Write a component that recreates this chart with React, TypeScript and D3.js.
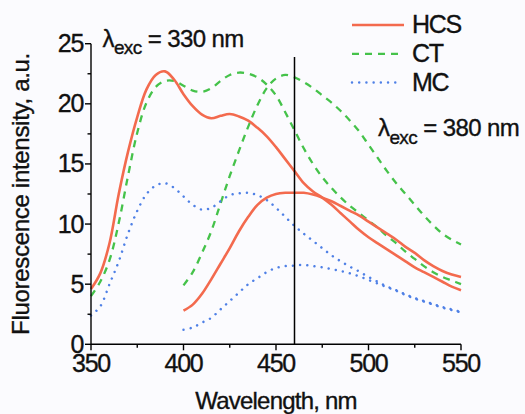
import React from 'react';
import * as d3 from 'd3';

// wavelengths, nm
const wl330 = [350, 355, 360, 365, 370, 375, 380, 385, 390, 395, 400, 405, 410, 415, 420, 425, 430, 435, 440, 445, 450,
  455, 460, 465, 470, 475, 480, 485, 490, 495, 500, 505, 510, 515, 520, 525, 530, 535, 540, 545, 550];
const wl380 = [400, 405, 410, 415, 420, 425, 430, 435, 440, 445, 450,
  455, 460, 465, 470, 475, 480, 485, 490, 495, 500, 505, 510, 515, 520, 525, 530, 535, 540, 545, 550];

// excitation 330 nm
const hcs330 = [4.6, 5.9, 8.4, 12.5, 16.0, 18.9, 21.2, 22.4, 22.7, 22.0, 20.8, 19.8, 19.1, 18.8, 19.0, 19.15, 18.95, 18.6, 18.0, 17.3, 16.4,
  15.4, 14.4, 13.4, 12.7, 12.2, 11.6, 10.9, 10.2, 9.5, 8.9, 8.4, 7.9, 7.4, 6.9, 6.4, 6.0, 5.6, 5.2, 4.8, 4.5];
const ct330 = [4.0, 5.2, 7.0, 10.1, 14.0, 17.6, 20.1, 21.4, 21.9, 21.9, 21.5, 21.1, 21.0, 21.3, 21.9, 22.4, 22.6, 22.5, 22.2, 21.6, 20.7,
  19.3, 17.8, 16.3, 15.0, 13.9, 13.0, 12.2, 11.5, 10.9, 10.3, 9.7, 9.0, 8.4, 7.7, 7.1, 6.5, 6.0, 5.6, 5.3, 5.0];
const mc330 = [2.4, 3.15, 5.0, 6.9, 9.2, 11.1, 12.5, 13.2, 13.4, 13.0, 12.3, 11.6, 11.2, 11.35, 11.9, 12.4, 12.55, 12.6, 12.4, 12.0, 11.35,
  10.6, 9.85, 9.2, 8.6, 8.0, 7.4, 6.9, 6.45, 6.05, 5.6, 5.2, 4.8, 4.5, 4.15, 3.85, 3.6, 3.35, 3.1, 2.9, 2.7];

// excitation 380 nm
const hcs380 = [2.8, 3.3, 4.2, 5.4, 6.7, 8.0, 9.4, 10.6, 11.6, 12.2, 12.5,
  12.6, 12.6, 12.6, 12.45, 12.2, 11.9, 11.5, 11.1, 10.7, 10.2, 9.7, 9.2, 8.7, 8.1, 7.6, 7.0, 6.5, 6.1, 5.8, 5.6];
const ct380 = [4.9, 6.0, 7.6, 9.4, 11.7, 14.0, 16.1, 18.1, 19.9, 21.3, 22.1,
  22.4, 22.2, 21.8, 21.3, 20.7, 20.1, 19.4, 18.6, 17.7, 16.6, 15.5, 14.4, 13.4, 12.5, 11.6, 10.7, 9.9, 9.2, 8.7, 8.3];
const mc380 = [1.2, 1.4, 1.8, 2.2, 2.9, 3.6, 4.3, 5.0, 5.5, 6.0, 6.35,
  6.5, 6.55, 6.6, 6.5, 6.4, 6.25, 6.1, 5.9, 5.65, 5.35, 5.05, 4.75, 4.45, 4.1, 3.8, 3.55, 3.3, 3.05, 2.85, 2.65];

const xTicks = [350, 400, 450, 500, 550];
const xMinor = [375, 425, 475, 525];
const yTicks = [0, 5, 10, 15, 20, 25];
const yMinor = [2.5, 7.5, 12.5, 17.5, 22.5];
const markerWl = 460;
const markerTop = 23.9;

const legend = [
  { name: 'HCS', color: '#f36a4e', dash: 'none', width: 2.6, cap: 'butt' },
  { name: 'CT', color: '#45c24a', dash: '7,6', width: 2.3, cap: 'butt' },
  { name: 'MC', color: '#4f80e6', dash: '0.01,7.2', width: 2.5, cap: 'round' },
];

const font = '"Liberation Sans", Arial, sans-serif';

export default function App() {
  const x = d3.scaleLinear().domain([350, 550]).range([91, 461]);
  const y = d3.scaleLinear().domain([0, 25]).range([344.3, 43.7]);

  const line = (xs: number[], ys: number[]) =>
    d3.line<number>()
      .x((_, i) => x(xs[i]))
      .y(d => y(d))
      .curve(d3.curveCatmullRom.alpha(0.5))(ys) as string;

  const curves = [
    { xs: wl330, ys: ct330, s: legend[1] },
    { xs: wl380, ys: ct380, s: legend[1] },
    { xs: wl330, ys: mc330, s: legend[2] },
    { xs: wl380, ys: mc380, s: legend[2] },
    { xs: wl330, ys: hcs330, s: legend[0] },
    { xs: wl380, ys: hcs380, s: legend[0] },
  ];

  const x0 = x(350);
  const y0 = y(0);

  return (
    <div style={{ position: 'absolute', left: 0, top: 0 }}>
      <svg width={525} height={414} style={{ display: 'block', background: '#fbfbfe' }} fontFamily={font}>
        {curves.map((c, i) => (
          <path key={i} d={line(c.xs, c.ys)} fill="none" stroke={c.s.color}
            strokeWidth={c.s.width} strokeDasharray={c.s.dash}
            strokeLinecap={c.s.cap as any} />
        ))}

        <line x1={x(markerWl)} x2={x(markerWl)} y1={y0} y2={y(markerTop)} stroke="#000" strokeWidth={1.5} />

        {/* axes */}
        <g stroke="#000" strokeWidth={1.4}>
          <line x1={x0} x2={x(550)} y1={y0} y2={y0} />
          <line x1={x0} x2={x0} y1={y0} y2={y(25)} />
          {xTicks.map(t => <line key={'xt' + t} x1={x(t)} x2={x(t)} y1={y0} y2={y0 + 6} />)}
          {xMinor.map(t => <line key={'xm' + t} x1={x(t)} x2={x(t)} y1={y0} y2={y0 + 3.5} />)}
          {yTicks.map(t => <line key={'yt' + t} x1={x0} x2={x0 - 6} y1={y(t)} y2={y(t)} />)}
          {yMinor.map(t => <line key={'ym' + t} x1={x0} x2={x0 - 3.5} y1={y(t)} y2={y(t)} />)}
        </g>

        <g fontSize={24} letterSpacing={-0.6} fill="#111" stroke="#111" strokeWidth={0.35}>
          {xTicks.map(t => (
            <text key={'xl' + t} x={x(t)} y={y0 + 28} textAnchor="middle" fontSize={25} letterSpacing={-1.3}>{t}</text>
          ))}
          {yTicks.map(t => (
            <text key={'yl' + t} x={83} y={y(t) + 8.5} textAnchor="end" fontSize={25} letterSpacing={-1.3}>{t}</text>
          ))}
          <text x={(x0 + x(550)) / 2} y={409} textAnchor="middle" letterSpacing={-0.8}>Wavelength, nm</text>
          <text transform={`translate(29,${(y0 + y(25)) / 2}) rotate(-90)`} textAnchor="middle" letterSpacing={-0.3}>
            Fluorescence intensity, a.u.
          </text>

          <text x={102.5} y={46.5}>
            λ<tspan dy={7.5} fontSize={19}>exc</tspan><tspan dy={-7.5}> = 330 nm</tspan>
          </text>
          <text x={378} y={136}>
            λ<tspan dy={7.5} fontSize={19}>exc</tspan><tspan dy={-7.5}> = 380 nm</tspan>
          </text>

          {legend.map((l, i) => (
            <g key={l.name}>
              <line x1={352} x2={i === 0 ? 404 : 399} y1={25 + i * 28.8} y2={25 + i * 28.8}
                stroke={l.color} strokeWidth={l.width} strokeDasharray={l.dash}
                strokeLinecap={l.cap as any} />
              <text x={412} y={33.3 + i * 28.8} fontSize={25} letterSpacing={-1.3}>{l.name}</text>
            </g>
          ))}
        </g>
      </svg>
    </div>
  );
}
